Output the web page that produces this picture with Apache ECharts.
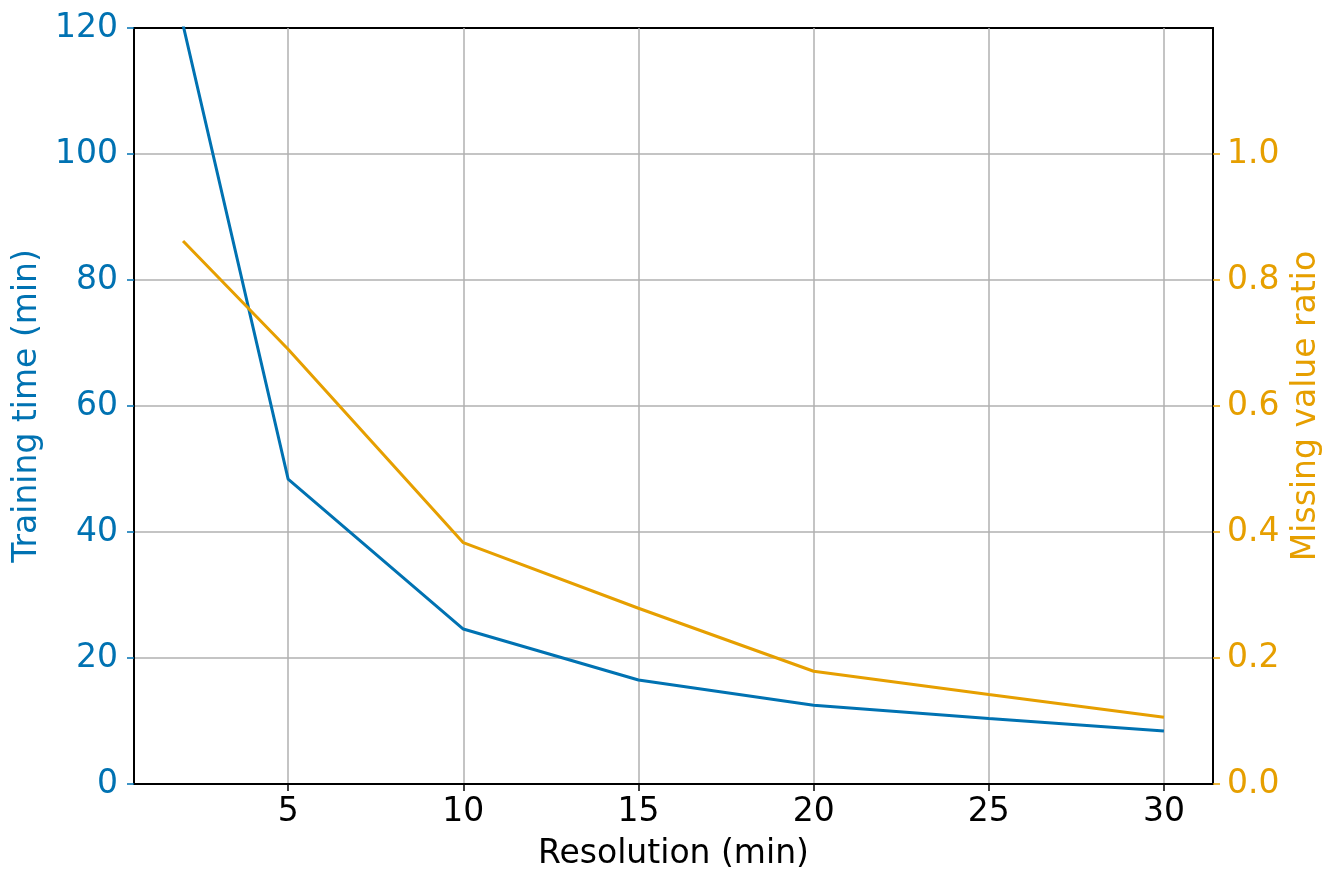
<!DOCTYPE html>
<html>
<head>
<meta charset="utf-8">
<script src="https://cdn.jsdelivr.net/npm/echarts@6/dist/echarts.min.js"></script>
<style>
html,body{margin:0;padding:0;background:#fff;}
#chart{width:1338px;height:888px;}
</style>
</head>
<body>
<div id="chart"></div>
<script>
var resolution = [2, 5, 10, 15, 20, 25, 30];
var trainingTime = [120.5, 48.4, 24.6, 16.5, 12.5, 10.4, 8.4];
var missingRatio = [0.862, 0.69, 0.383, 0.279, 0.179, 0.142, 0.106];
var xTicks = [5, 10, 15, 20, 25, 30];

var blue = '#0072B2';
var orange = '#E69F00';
var font = 'DejaVu Sans';

function pairs(xs, ys){
	var out = [];
	for (var i = 0; i < xs.length; i++) out.push([xs[i], ys[i]]);
	return out;
}

var option = {
	animation: false,
	textStyle: {fontFamily: font},
	grid: {
		left: 134, right: 125, top: 28, bottom: 104,
		show: true, borderColor: '#000', borderWidth: 2
	},
	xAxis: {
		type: 'value',
		min: 0.6, max: 31.4,
		name: 'Resolution (min)',
		nameLocation: 'middle',
		nameGap: 54,
		nameTextStyle: {fontSize: 33, color: '#000', fontFamily: font},
		axisLine: {lineStyle: {color: '#000', width: 2}},
		axisTick: {show: true, length: 7, customValues: xTicks, lineStyle: {color: '#000', width: 1.5}},
		axisLabel: {customValues: xTicks, fontSize: 33, color: '#000', margin: 12, fontFamily: font},
		splitLine: {show: true, lineStyle: {color: '#b0b0b0', width: 1.5}}
	},
	yAxis: [{
		type: 'value',
		min: 0, max: 120, interval: 20,
		position: 'left',
		name: 'Training time (min)',
		nameLocation: 'middle',
		nameRotate: 90,
		nameGap: 85,
		nameTextStyle: {fontSize: 33, color: blue, fontFamily: font},
		axisLine: {show: true, lineStyle: {color: '#000', width: 2}},
		axisTick: {show: true, length: 7, lineStyle: {color: blue, width: 1.5}},
		axisLabel: {fontSize: 33, color: blue, margin: 16, fontFamily: font},
		splitLine: {show: true, showMinLine: false, showMaxLine: false, lineStyle: {color: '#b0b0b0', width: 1.5}}
	}, {
		type: 'value',
		min: 0, max: 1.2, interval: 0.2,
		position: 'right',
		name: 'Missing value ratio',
		nameLocation: 'middle',
		nameRotate: 90,
		nameGap: 74,
		nameTextStyle: {fontSize: 33, color: orange, fontFamily: font},
		axisLine: {show: true, lineStyle: {color: '#000', width: 2}},
		axisTick: {show: true, length: 7, lineStyle: {color: orange, width: 1.5}},
		axisLabel: {
			fontSize: 33, color: orange, margin: 14, fontFamily: font,
			showMaxLabel: false,
			formatter: function(v){ return v.toFixed(1); }
		},
		splitLine: {show: false}
	}],
	series: [{
		type: 'line',
		yAxisIndex: 0,
		data: pairs(resolution, trainingTime),
		symbol: 'none',
		clip: true,
		lineStyle: {color: blue, width: 3},
		itemStyle: {color: blue}
	}, {
		type: 'line',
		yAxisIndex: 1,
		data: pairs(resolution, missingRatio),
		symbol: 'none',
		clip: true,
		lineStyle: {color: orange, width: 3},
		itemStyle: {color: orange}
	}]
};

var myChart = echarts.init(document.getElementById('chart'));
myChart.setOption(option);
</script>
</body>
</html>
